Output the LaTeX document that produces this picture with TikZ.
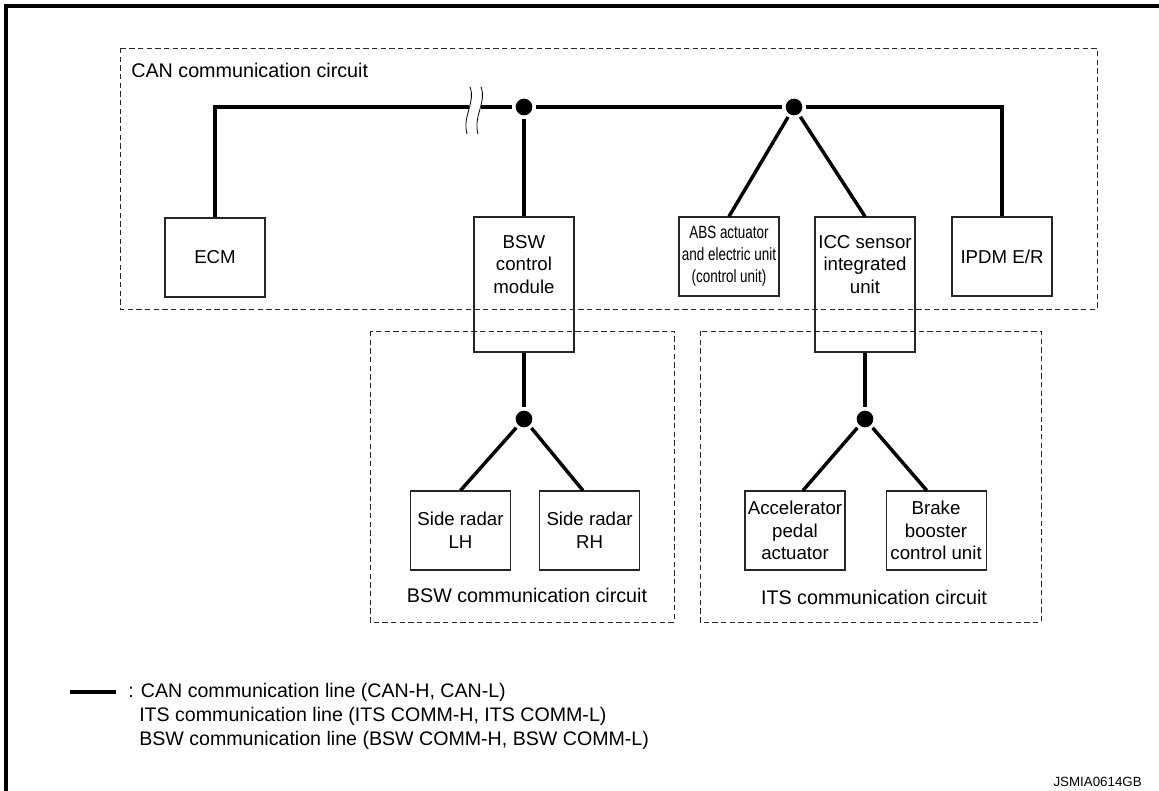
\documentclass[tikz,border=0pt]{standalone}
\usepackage{fontspec}
\setmainfont{Liberation Sans}
\newfontfamily\narrowsans{Liberation Sans}[FakeStretch=0.76]
\usetikzlibrary{positioning}

\tikzset{
  unit/.style={draw=black!85,line width=0.8pt,minimum width=75pt,minimum height=59.25pt,
    align=center,inner sep=1pt,font=\fontsize{14}{17}\selectfont},
  tallunit/.style={unit,minimum height=101.25pt},
  unittext/.style={align=center,inner sep=0pt,font=\fontsize{14}{17}\selectfont},
  circuit/.style={draw=black!85,line width=0.7pt,dash pattern=on 4pt off 2.5pt},
  circuitlabel/.style={inner sep=0pt,font=\fontsize{14.8}{17}\selectfont},
  bus/.style={line width=2.6pt},
  junction/.style={circle,fill=black,inner sep=0pt,minimum size=12.5pt,outer sep=2.5pt},
  brk/.style={line width=0.6pt},
  legend/.style={anchor=west,inner sep=0pt,font=\fontsize{14.7}{17}\selectfont},
}

\begin{document}
\begin{tikzpicture}[x=0.75pt,y=-0.75pt]
  \useasboundingbox (0,0) rectangle (1159,791);
  % sheet frame
  \draw[line width=3pt] (6,791) -- (6,6) -- (1159,6);

  % circuit areas
  \draw[circuit] (120,48) rectangle (1097,309);
  \draw[circuit] (370,331) rectangle (674,622);
  \draw[circuit] (700,331) rectangle (1041,622);
  \node[circuitlabel,anchor=west] (canlbl) at (131,70) {CAN communication circuit};
  \node[circuitlabel] (bswlbl) at (527,595) {BSW communication circuit};
  \node[circuitlabel] (itslbl) at (874,597) {ITS communication circuit};

  % control units on the CAN bus
  \node[unit] (ecm) at (215,257.5) {ECM};
  \node[tallunit] (bsw) at (524,284.5) {};
  \node[unittext] (bswtext) at ([yshift=-36pt]bsw.north) {BSW\\control\\module};
  \node[unit,font=\narrowsans\fontsize{13.3}{16.5}\selectfont] (abs) at (729,256.5)
    {ABS actuator\\and electric unit\\(control unit)};
  \node[tallunit] (icc) at (865,284.5) {};
  \node[unittext] (icctext) at ([yshift=-36pt]icc.north) {ICC sensor\\integrated\\unit};
  \node[unit] (ipdm) at (1002,256.5) {IPDM E/R};

  % BSW and ITS sub-networks
  \node[unit] (rdlh) at (460.5,530.5) {Side radar\\LH};
  \node[unit,right=21pt of rdlh] (rdrh) {Side radar\\RH};
  \node[unit] (acc) at (795,530.5) {Accelerator\\pedal\\actuator};
  \node[unit,right=30pt of acc] (brake) {Brake\\booster\\control unit};

  % junctions
  \node[junction] (j1) at (524,107) {};
  \node[junction] (j2) at (794,107) {};
  \node[junction] (j3) at (524,419) {};
  \node[junction] (j4) at (865,419) {};

  % CAN bus with break
  \coordinate (brkl) at (469,107);
  \coordinate (brkr) at (481,107);
  \draw[bus] (ecm.north) |- (brkl);
  \draw[bus] (brkr) -- (j1) -- (j2) -| (ipdm.north);
  \draw[brk] (470,87) .. controls (476,102) and (462,116) .. (467,134);
  \draw[brk] (481,87) .. controls (487,102) and (473,116) .. (478,134);
  \draw[bus] (j1) -- (bsw.north);
  \draw[bus] (j2) -- (abs.north);
  \draw[bus] (j2) -- (icc.north);

  % BSW line
  \draw[bus] (bsw.south) -- (j3);
  \draw[bus] (j3) -- (rdlh.north);
  \draw[bus] (j3) -- ([xshift=-5pt]rdrh.north);
  % ITS line
  \draw[bus] (icc.south) -- (j4);
  \draw[bus] (j4) -- ([xshift=6pt]acc.north);
  \draw[bus] (j4) -- ([xshift=-7pt]brake.north);

  % legend
  \coordinate (lg1) at (70,692);
  \coordinate (lg2) at (116,692);
  \draw[bus] (lg1) -- (lg2);
  \node[legend] (lgcan) at (128,692) {: CAN communication line (CAN-H, CAN-L)};
  \node[legend] (lgits) at (139,716) {ITS communication line (ITS COMM-H, ITS COMM-L)};
  \node[legend] (lgbsw) at (139,740) {BSW communication line (BSW COMM-H, BSW COMM-L)};

  \node[anchor=east,inner sep=0pt,font=\fontsize{10}{12}\selectfont] (figid) at (1142,782) {JSMIA0614GB};
\end{tikzpicture}
\end{document}
